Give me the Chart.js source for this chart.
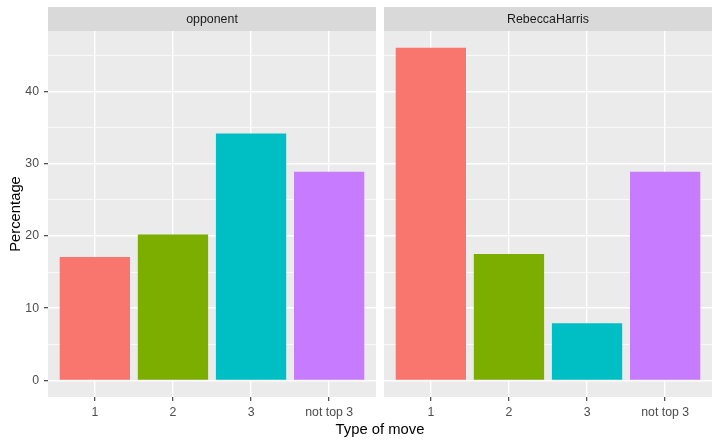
<!DOCTYPE html>
<html>
<head>
<meta charset="utf-8">
<script src="https://cdn.jsdelivr.net/npm/chart.js@4"></script>
<style>
  html, body { margin: 0; padding: 0; background: #ffffff; }
  #wrap { position: relative; width: 720px; height: 444px; overflow: hidden; font-family: "Liberation Sans", Arial, sans-serif; }
  #c1 { position: absolute; left: 0; top: 0; }
  #c2 { position: absolute; left: 384px; top: 0; }
  #xtitle { position: absolute; left: 0; width: 760px; top: 420px; text-align: center; font-size: 14.8px; line-height: 18px; color: #000; }
</style>
</head>
<body>
<div id="wrap">
  <canvas id="c1" width="376" height="444"></canvas>
  <canvas id="c2" width="336" height="444"></canvas>
  <div id="xtitle">Type of move</div>
</div>
<script>
// ---- data ----
const categories = ['1', '2', '3', 'not top 3'];
const panelLabels = ['opponent', 'RebeccaHarris'];
const opponentValues = [17.1, 20.2, 34.2, 28.9];
const rebeccaValues = [46.1, 17.5, 7.9, 28.9];
const yTickValues = [0, 10, 20, 30, 40];
const yMinorValues = [5, 15, 25, 35, 45];
const barColors = ['#F8766D', '#7CAE00', '#00BFC4', '#C77CFF'];
const yAxisTitle = 'Percentage';

const FONT = '"Liberation Sans", Arial, sans-serif';

function panelPlugin(label) {
  return {
    id: 'panel_' + label,
    beforeDraw(chart) {
      const ctx = chart.ctx;
      const a = chart.chartArea;
      ctx.save();
      ctx.fillStyle = '#EBEBEB';
      ctx.fillRect(a.left, a.top, a.right - a.left, a.bottom - a.top);
      ctx.fillStyle = '#D9D9D9';
      ctx.fillRect(a.left, 7, a.right - a.left, a.top - 7);
      ctx.fillStyle = '#1A1A1A';
      ctx.font = '12.4px ' + FONT;
      ctx.textAlign = 'center';
      ctx.textBaseline = 'middle';
      ctx.fillText(label, (a.left + a.right) / 2, (7 + a.top) / 2 + 1);
      ctx.restore();
    }
  };
}

function makeChart(canvasId, values, label, showY) {
  const data = categories.map((c, i) => ({ x: i + 1, y: values[i] }));
  const ymax = Math.max(...opponentValues, ...rebeccaValues);
  const pad = ymax * 0.05;
  return new Chart(document.getElementById(canvasId), {
    type: 'bar',
    data: {
      datasets: [{
        data: data,
        backgroundColor: barColors,
        borderWidth: 0,
        barPercentage: 0.9,
        categoryPercentage: 1.0
      }]
    },
    options: {
      responsive: false,
      animation: false,
      devicePixelRatio: 1,
      layout: { padding: { top: 31, left: 0, right: showY ? 0 : 8, bottom: 0 } },
      plugins: { legend: { display: false }, tooltip: { enabled: false }, title: { display: false } },
      scales: {
        x: {
          type: 'linear',
          min: 0.4,
          max: 4.6,
          offset: false,
          afterBuildTicks(scale) { scale.ticks = categories.map((c, i) => ({ value: i + 1 })); },
          afterFit(scale) { scale.height = 47; },
          border: { display: false },
          grid: {
            offset: false,
            color: '#FFFFFF',
            lineWidth: 1.4,
            drawTicks: true,
            tickLength: 4,
            tickColor: '#333333',
            tickWidth: 1.1
          },
          ticks: {
            color: '#4D4D4D',
            font: { family: FONT, size: 12.3 },
            padding: 4,
            maxRotation: 0,
            autoSkip: false,
            callback: (v) => categories[Math.round(v) - 1]
          }
        },
        y: {
          type: 'linear',
          min: -pad,
          max: ymax + pad,
          afterBuildTicks(scale) {
            const all = yTickValues.concat(yMinorValues).sort((a, b) => a - b);
            scale.ticks = all.map(v => ({ value: v }));
          },
          afterFit(scale) { scale.width = showY ? 48 : 0; },
          border: { display: false },
          grid: {
            color: '#FFFFFF',
            lineWidth: (c) => (c.tick && yTickValues.includes(c.tick.value)) ? 1.4 : 0.7,
            drawTicks: showY,
            tickLength: 4,
            tickColor: (c) => (c.tick && yTickValues.includes(c.tick.value)) ? '#333333' : 'rgba(0,0,0,0)',
            tickWidth: 1.1
          },
          ticks: {
            display: showY,
            color: '#4D4D4D',
            font: { family: FONT, size: 12.3 },
            padding: 5,
            autoSkip: false,
            callback: (v) => yTickValues.includes(v) ? String(v) : ''
          },
          title: {
            display: showY,
            text: yAxisTitle,
            color: '#000000',
            font: { family: FONT, size: 14.8 },
            padding: { top: 7, bottom: 0 }
          }
        }
      }
    },
    plugins: [panelPlugin(label)]
  });
}

makeChart('c1', opponentValues, panelLabels[0], true);
makeChart('c2', rebeccaValues, panelLabels[1], false);
</script>
</body>
</html>
